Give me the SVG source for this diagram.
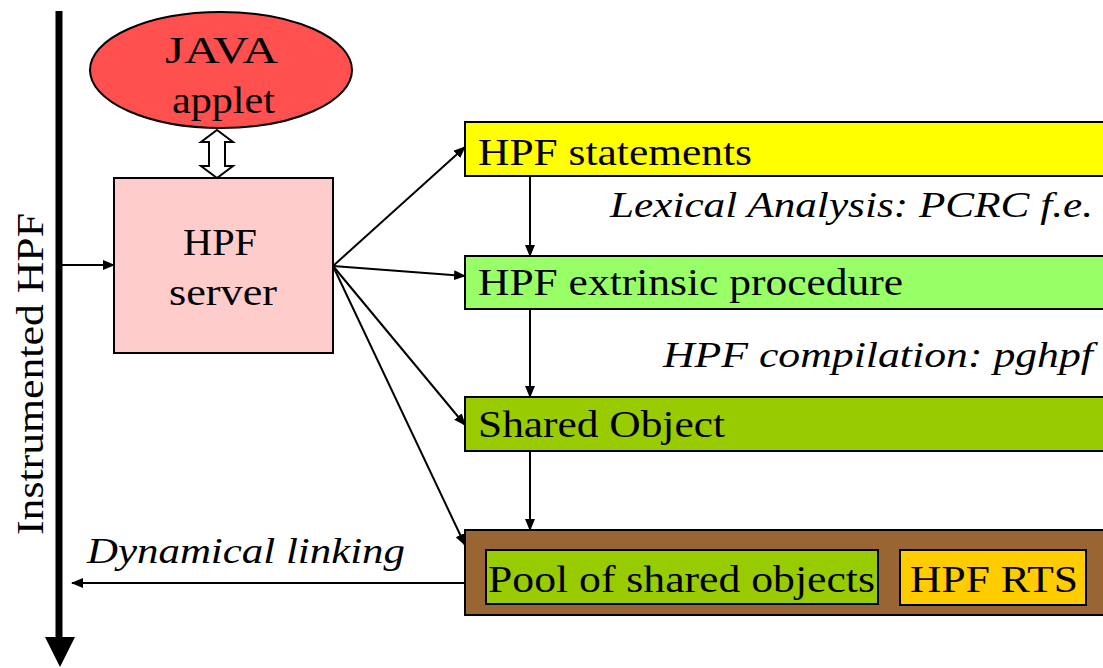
<svg xmlns="http://www.w3.org/2000/svg" width="1103" height="668" viewBox="0 0 1103 668">
<style>
.box{stroke:#000;stroke-width:2}
.t{font-family:"Liberation Serif","DejaVu Serif",serif;font-size:38px;fill:#000}
.it{font-family:"Liberation Serif","DejaVu Serif",serif;font-size:36px;font-style:italic;fill:#000}
.c{stroke:#000;stroke-width:2;fill:none;marker-end:url(#ah)}
</style>
<defs>
<marker id="ah" markerUnits="userSpaceOnUse" markerWidth="12" markerHeight="10" refX="11" refY="5" orient="auto">
<path d="M0,0 L12,5 L0,10 Z" fill="#000"/>
</marker>
</defs>
<rect width="1103" height="668" fill="#fff"/>

<g id="instrumented">
<line x1="59" y1="11" x2="59" y2="640" stroke="#000" stroke-width="7"/>
<polygon points="45,637 75,637 60,667" fill="#000"/>
<text class="t" transform="translate(43,535) rotate(-90)" textLength="322" lengthAdjust="spacingAndGlyphs" font-size="40">Instrumented HPF</text>
</g>

<g id="java">
<ellipse cx="221" cy="70" rx="131" ry="58" fill="#ff5050" stroke="#000" stroke-width="2"/>
<text class="t" x="165" y="63" textLength="113" lengthAdjust="spacingAndGlyphs">JAVA</text>
<text class="t" x="172" y="113" textLength="103" lengthAdjust="spacingAndGlyphs">applet</text>
</g>

<g id="server">
<rect class="box" x="114" y="178" width="219" height="175" fill="#ffcccc"/>
<text class="t" x="183" y="255" textLength="74" lengthAdjust="spacingAndGlyphs">HPF</text>
<text class="t" x="169" y="305" textLength="108" lengthAdjust="spacingAndGlyphs">server</text>
</g>

<g id="statements">
<rect class="box" x="465" y="122" width="640" height="54" fill="#ffff00"/>
<text class="t" x="478" y="165" textLength="274" lengthAdjust="spacingAndGlyphs">HPF statements</text>
</g>

<g id="extrinsic">
<rect class="box" x="465" y="256" width="640" height="53" fill="#99ff66"/>
<text class="t" x="478" y="295" textLength="425" lengthAdjust="spacingAndGlyphs">HPF extrinsic procedure</text>
</g>

<g id="shared">
<rect class="box" x="465" y="397" width="640" height="54" fill="#99cc00"/>
<text class="t" x="478" y="437" textLength="247" lengthAdjust="spacingAndGlyphs">Shared Object</text>
</g>

<g id="pool">
<rect class="box" x="465" y="530" width="640" height="85" fill="#996633"/>
<rect class="box" x="486" y="550" width="392" height="54" fill="#99cc00"/>
<text class="t" x="488" y="592" textLength="387" lengthAdjust="spacingAndGlyphs">Pool of shared objects</text>
<rect class="box" x="900" y="550" width="186" height="55" fill="#ffcc00"/>
<text class="t" x="910" y="592" textLength="168" lengthAdjust="spacingAndGlyphs">HPF RTS</text>
</g>

<g id="labels">
<text class="it" x="610" y="217" textLength="483" lengthAdjust="spacingAndGlyphs">Lexical Analysis: PCRC f.e.</text>
<text class="it" x="663" y="367" textLength="430" lengthAdjust="spacingAndGlyphs">HPF compilation: pghpf</text>
<text class="it" x="87" y="563" textLength="318" lengthAdjust="spacingAndGlyphs">Dynamical linking</text>
</g>

<g id="connectors">
<polygon points="217,130 233,142 225,142 225,166 233,166 217,178 201,166 209,166 209,142 201,142" fill="#fff" stroke="#000" stroke-width="2"/>
<line class="c" x1="62" y1="265" x2="114" y2="265" stroke-width="3"/>
<line class="c" x1="333" y1="266" x2="465" y2="147"/>
<line class="c" x1="333" y1="266" x2="465" y2="276"/>
<line class="c" x1="333" y1="266" x2="465" y2="425"/>
<line class="c" x1="333" y1="266" x2="465" y2="545"/>
<line class="c" x1="530" y1="176" x2="530" y2="256"/>
<line class="c" x1="530" y1="309" x2="530" y2="397"/>
<line class="c" x1="530" y1="451" x2="530" y2="530"/>
<line class="c" x1="465" y1="583" x2="72" y2="583" stroke-width="3"/>
</g>
</svg>
